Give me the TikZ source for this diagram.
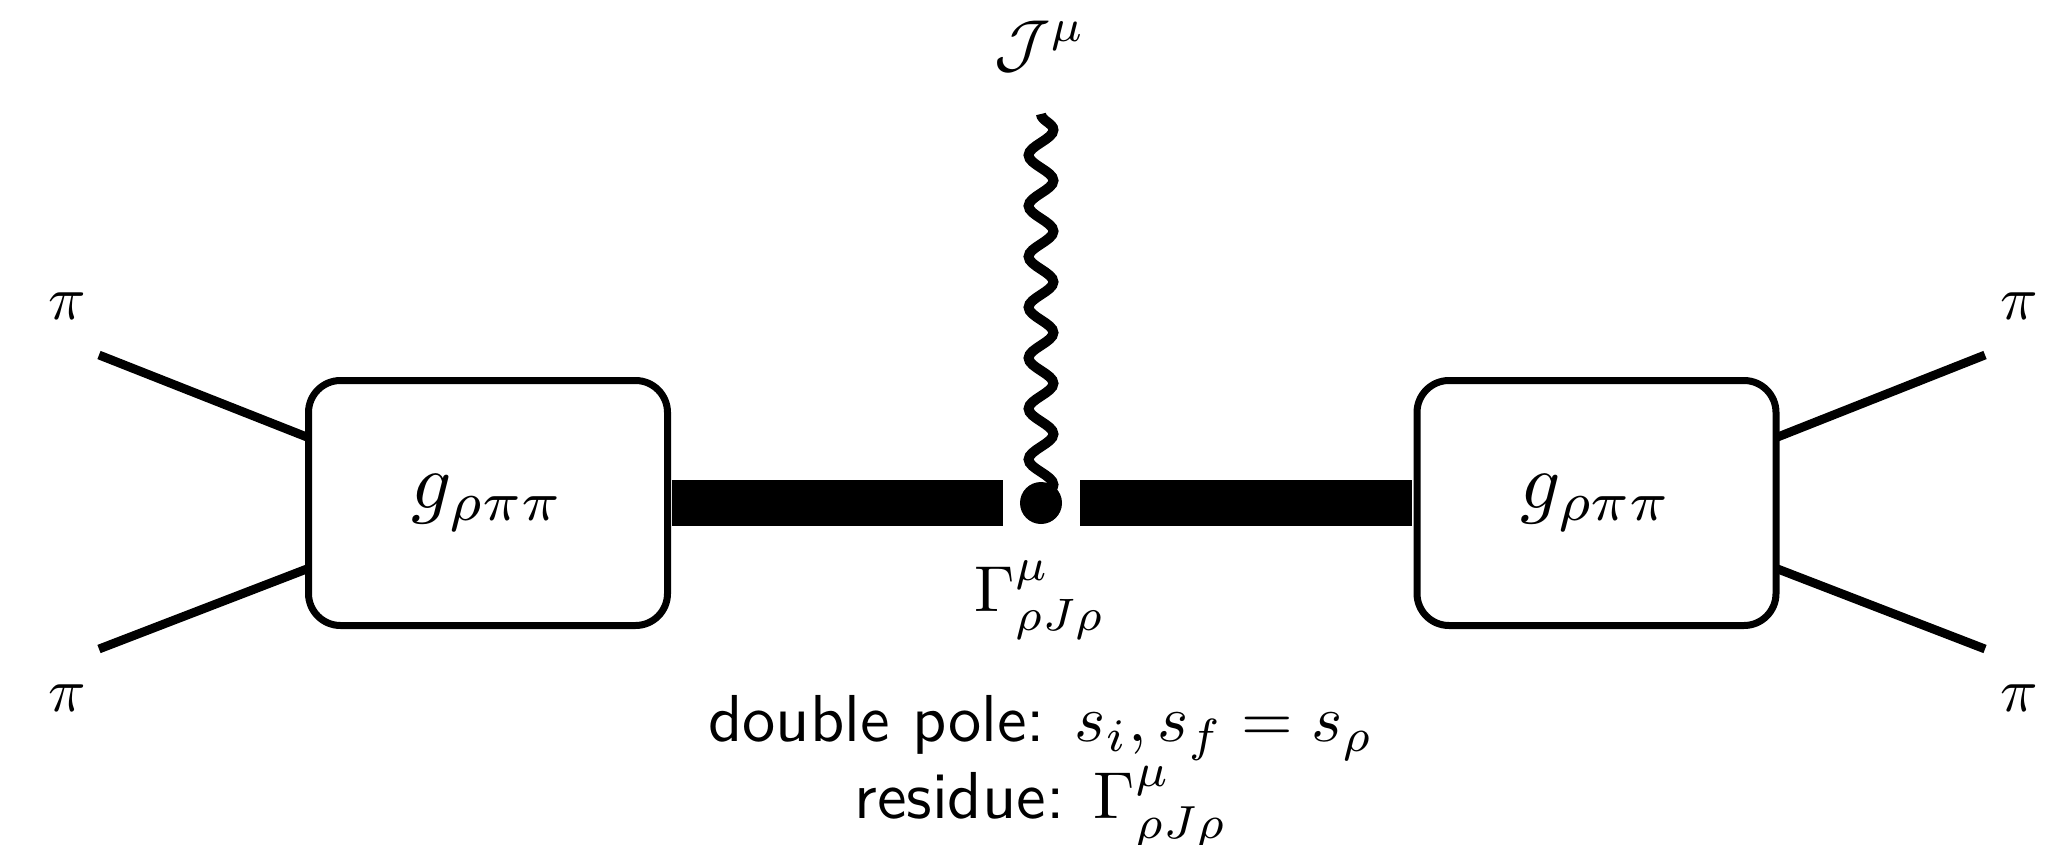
\documentclass[tikz,border=0pt]{standalone}
\usetikzlibrary{decorations.pathmorphing}
\tikzset{
  x=0.5pt,y=-0.5pt,
  blob/.style={draw=black,line width=3.5pt,rounded corners=16pt,fill=white,minimum width=179.5pt,minimum height=122.5pt,inner sep=0pt,outer sep=0pt},
  ext/.style={draw=black,line width=4.4pt},
  prop/.style={draw=black,line width=23pt},
  lab/.style={inner sep=0pt,outer sep=0pt,scale=3.1},
  biglab/.style={inner sep=0pt,outer sep=0pt,scale=3.95},
  midlab/.style={inner sep=0pt,outer sep=0pt,scale=3.25},
  txtlab/.style={inner sep=0pt,outer sep=0pt,scale=3.32},
  wig/.style={draw=black,line width=5pt,decorate,decoration={snake,segment length=25.35pt,amplitude=6.2pt}},
  vertexdot/.style={circle,fill=black,minimum size=21pt,inner sep=0pt,outer sep=0pt}
}
\begin{document}
\begin{tikzpicture}
\useasboundingbox (0,0) rectangle (2065,845);
\node[blob] (boxL) at (488,503) {};
\node[blob] (boxR) at (1596.5,503) {};
\node[biglab] (gL) at (boxL.center) {$g_{\rho\pi\pi}$};
\node[biglab] (gR) at (boxR.center) {$g_{\rho\pi\pi}$};
\node[vertexdot] (dot) at (1041,503) {};
\coordinate (p1) at (99,355);
\coordinate (p2) at (99,649);
\coordinate (p3) at (1985,355);
\coordinate (p4) at (1985,649);
\coordinate (wtop) at (1041,114);
\draw[ext] (p1) -- (boxL.160);
\draw[ext] (p2) -- (boxL.200);
\draw[ext] (p3) -- (boxR.20);
\draw[ext] (p4) -- (boxR.340);
\draw[prop,shorten <=2.2pt,shorten >=8.3pt] (boxL.east) -- (dot.west);
\draw[prop,shorten <=9pt,shorten >=2.5pt] (dot.east) -- (boxR.west);
\draw[wig] (wtop) -- (dot.center);
\node[lab] (piA) at (67,306) {$\pi$};
\node[lab] (piB) at (67,698) {$\pi$};
\node[lab] (piC) at (2019,306) {$\pi$};
\node[lab] (piD) at (2019,698) {$\pi$};
\node[midlab] (cur) at (1040,46) {$\mathcal{J}^{\mu}$};
\node[midlab] (gam) at (1040,600) {$\Gamma^{\mu}_{\rho J\rho}$};
\node[txtlab] (t1) at (1041,728) {\sffamily double pole: $s_i,s_f=s_\rho$};
\node[txtlab] (t2) at (1041,807) {\sffamily residue: $\Gamma^{\mu}_{\rho J\rho}$};
\end{tikzpicture}
\end{document}
